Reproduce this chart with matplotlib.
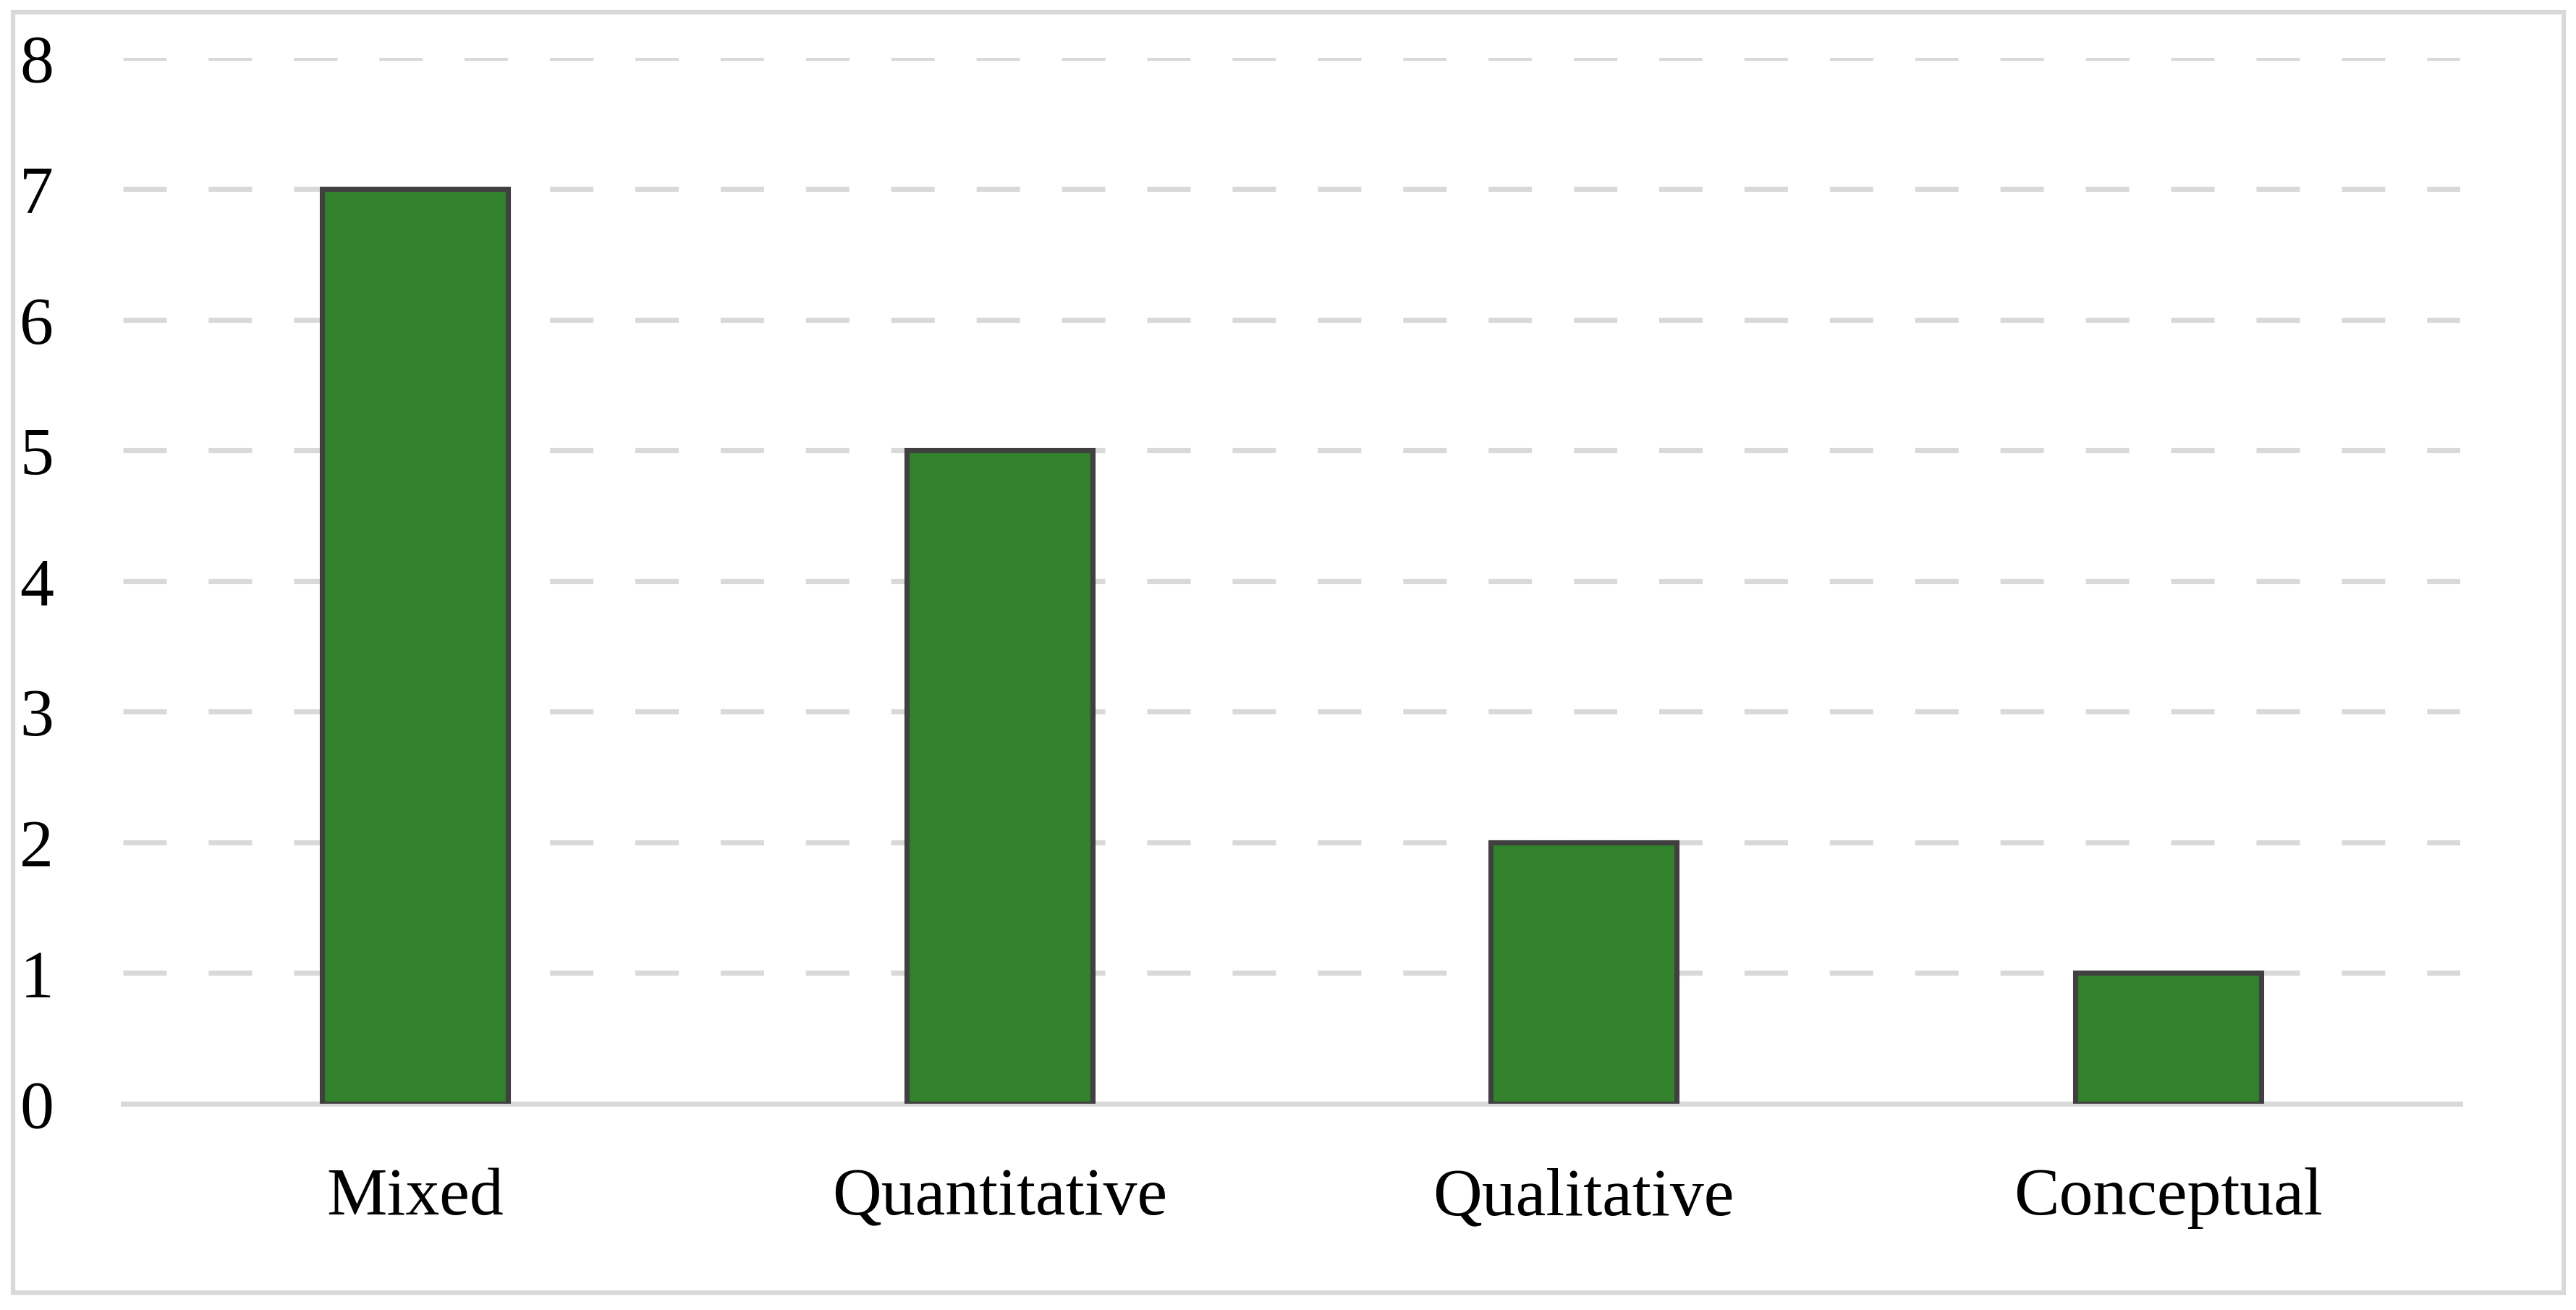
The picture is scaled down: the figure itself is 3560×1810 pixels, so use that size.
import matplotlib
matplotlib.use('Agg')
import matplotlib.pyplot as plt
from matplotlib.patches import Rectangle

categories = ['Mixed', 'Quantitative', 'Qualitative', 'Conceptual']
counts = [7, 5, 2, 1]
y_ticks = [0, 1, 2, 3, 4, 5, 6, 7, 8]

plt.rcParams['font.family'] = ['Liberation Serif', 'DejaVu Serif']
plt.rcParams['lines.scale_dashes'] = False

W, H, DPI = 3561, 1811, 300
fig = plt.figure(figsize=(W / DPI, (H - 0.4) / DPI), dpi=DPI)
ax = fig.add_axes([170 / W, 1 - 1526 / H, (3400 - 170) / W, (1526 - 81) / H])

x = range(len(categories))
ax.bar(x, counts, width=0.318, color='#31822b', edgecolor='#404040',
       linewidth=1.7, zorder=3)

ax.set_xlim(-0.5, len(categories) - 0.5)
ax.set_ylim(0, 8)
ax.set_yticks(y_ticks)
ax.set_yticklabels([str(t) for t in y_ticks])
ax.set_xticks(list(x))
ax.set_xticklabels(categories)

# dashed horizontal grid, solid base line
ax.yaxis.grid(True, color='#d9d9d9', linewidth=1.7, linestyle=(0, (14.4, 13.9)), zorder=0)
ax.set_axisbelow(True)
for s in ['top', 'right', 'left']:
    ax.spines[s].set_visible(False)
ax.spines['bottom'].set_color('#d9d9d9')
ax.spines['bottom'].set_linewidth(1.7)
ax.spines['bottom'].set_zorder(2)

ax.tick_params(axis='both', length=0, labelsize=22.5, colors='black')
ax.tick_params(axis='x', pad=21)
ax.tick_params(axis='y', pad=23)

# light grey frame around the whole chart
fig.patches.append(Rectangle((18 / W, 1 - 1787 / H), (3543 - 18) / W, (1787 - 18) / H,
                             transform=fig.transFigure, fill=False,
                             edgecolor='#d9d9d9', linewidth=1.5))

fig.savefig('out.png', dpi=DPI, facecolor='white')
